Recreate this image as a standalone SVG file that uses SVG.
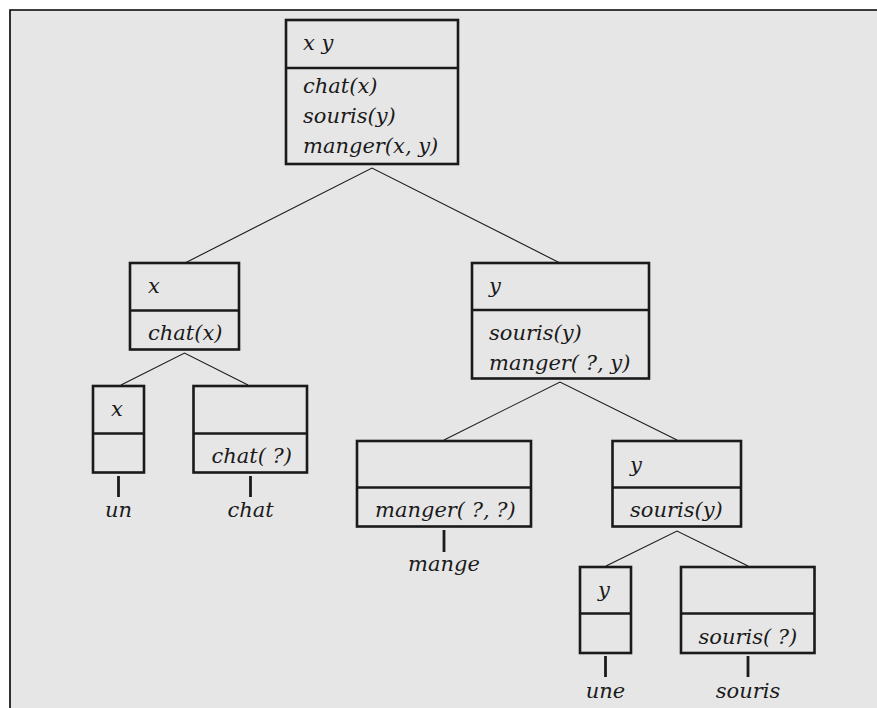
<svg xmlns="http://www.w3.org/2000/svg" width="877" height="708" viewBox="0 0 877 708">
<style>
.box{fill:none;stroke:#1a1a1a;stroke-width:2.6}
.div{stroke:#1a1a1a;stroke-width:2.6}
.edge{stroke:#1a1a1a;stroke-width:1.1;fill:none}
.tick{stroke:#1a1a1a;stroke-width:2.8}
.m{text-anchor:middle}
.t{font-family:"DejaVu Serif",serif;font-style:italic;font-size:21px;fill:#1a1a1a}
</style>
<rect x="0" y="0" width="877" height="708" fill="#ffffff"/>
<rect x="10" y="10" width="867" height="698" fill="#e6e6e6"/>
<path d="M10,708 V10 H877" fill="none" stroke="#000" stroke-width="1.6"/>
<g id="connectors">
<path class="edge" d="M185,263 L372,168 L560,263"/>
<path class="edge" d="M121,385 L184.5,353 L248,385"/>
<path class="edge" d="M444,440 L560,382 L677,440"/>
<path class="edge" d="M606,566 L677,531 L748,566"/>
<line class="tick" x1="118.5" y1="476" x2="118.5" y2="497"/>
<line class="tick" x1="250.5" y1="476" x2="250.5" y2="497"/>
<line class="tick" x1="444" y1="530" x2="444" y2="552"/>
<line class="tick" x1="605.5" y1="656" x2="605.5" y2="677"/>
<line class="tick" x1="748" y1="656" x2="748" y2="677"/>
</g>
<g class="t">
<g id="n-root">
<rect class="box" x="286" y="20" width="172" height="144"/>
<line class="div" x1="286" y1="68" x2="458" y2="68"/>
<text x="303" y="50">x y</text>
<text x="303" y="93">chat(x)</text>
<text x="303" y="123">souris(y)</text>
<text x="303" y="153">manger(x, y)</text>
</g>
<g id="n-x">
<rect class="box" x="130" y="263" width="109" height="86.5"/>
<line class="div" x1="130" y1="310.5" x2="239" y2="310.5"/>
<text x="148" y="293">x</text>
<text x="148" y="340">chat(x)</text>
</g>
<g id="n-un">
<rect class="box" x="93" y="386" width="51" height="86.5"/>
<line class="div" x1="93" y1="433.5" x2="144" y2="433.5"/>
<text class="m" x="117" y="416">x</text>
<text class="m" x="118.5" y="516.5">un</text>
</g>
<g id="n-chat">
<rect class="box" x="193.5" y="386" width="113.5" height="86.5"/>
<line class="div" x1="193.5" y1="433.5" x2="307" y2="433.5"/>
<text x="211.5" y="463">chat( ?)</text>
<text class="m" x="250.5" y="516.5">chat</text>
</g>
<g id="n-y">
<rect class="box" x="472" y="263" width="177" height="115.5"/>
<line class="div" x1="472" y1="310" x2="649" y2="310"/>
<text x="489" y="293">y</text>
<text x="489" y="340">souris(y)</text>
<text x="489" y="369.5">manger( ?, y)</text>
</g>
<g id="n-mange">
<rect class="box" x="357" y="441" width="174" height="85.5"/>
<line class="div" x1="357" y1="487.5" x2="531" y2="487.5"/>
<text x="375" y="516.5">manger( ?, ?)</text>
<text class="m" x="444" y="571">mange</text>
</g>
<g id="n-ys">
<rect class="box" x="612.5" y="441" width="128.5" height="85.5"/>
<line class="div" x1="612.5" y1="487.5" x2="741" y2="487.5"/>
<text x="630" y="472">y</text>
<text x="630" y="516.5">souris(y)</text>
</g>
<g id="n-une">
<rect class="box" x="580" y="567" width="51" height="86"/>
<line class="div" x1="580" y1="613.5" x2="631" y2="613.5"/>
<text class="m" x="604" y="597">y</text>
<text class="m" x="605.5" y="698">une</text>
</g>
<g id="n-souris">
<rect class="box" x="681" y="567" width="133.5" height="86"/>
<line class="div" x1="681" y1="613.5" x2="814.5" y2="613.5"/>
<text x="698.5" y="643.5">souris( ?)</text>
<text class="m" x="748" y="698">souris</text>
</g>
</g>
</svg>
